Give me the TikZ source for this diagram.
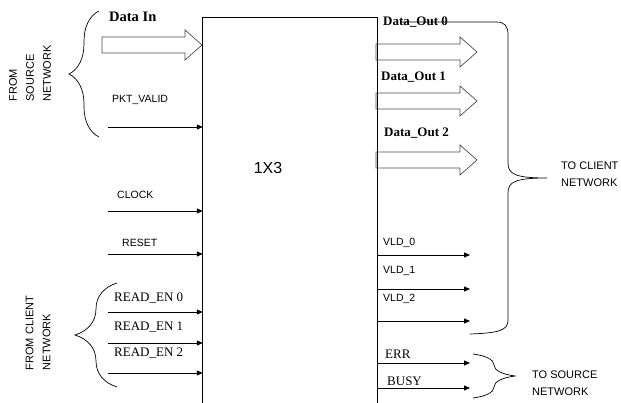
\documentclass[tikz,border=0pt]{standalone}
\usepackage{fontspec}
\setmainfont{Liberation Serif}
\setsansfont{Liberation Sans}
\usetikzlibrary{arrows.meta,decorations.pathreplacing}

\begin{document}
\begin{tikzpicture}
            [
                x = 1pt, y = -1pt,
                sig/.style  = {draw, line width=0.8pt, -{Triangle[length=6pt,width=5pt]}},
                lbl/.style  = {anchor=west, inner sep=1pt, font=\sffamily\fontsize{10.5}{12}\selectfont},
                slbl/.style = {anchor=west, inner sep=1pt, font=\rmfamily\fontsize{13}{15}\selectfont},
                blbl/.style = {anchor=west, inner sep=1pt, font=\rmfamily\bfseries\fontsize{13}{15}\selectfont},
                side/.style = {align=left, inner sep=1pt, font=\sffamily\fontsize{11}{17}\selectfont},
                brc/.style  = {decorate, line width=0.7pt, decoration={brace, amplitude=#1}},
                pics/bus/.style = {code={
                    \draw[line width=0.7pt, draw=black!70] (0,-8) -- (#1-17,-8) -- (#1-17,-15) -- (#1,0)
                        -- (#1-17,15) -- (#1-17,8) -- (0,8) -- cycle;}}
            ]
            \useasboundingbox (0,0) rectangle (621,403);

            % the block
            \node[minimum width=174pt, minimum height=385pt, inner sep=0pt] (blk) at (290,210.5) {};
            \draw[line width=0.8pt] (blk.south west) |- (blk.north east) -- (blk.south east);
            \node[font=\sffamily\fontsize{16}{18}\selectfont] (core) at (268,168) {1X3};

            % inputs
            \pic at (102,45) {bus=100};
            \node[blbl, font=\rmfamily\bfseries\fontsize{14.5}{16}\selectfont] (din) at (108,17) {Data In};
            \node[lbl] (pktl) at (111,100) {PKT\_VALID};
            \node[lbl] (clkl) at (116,195) {CLOCK};
            \node[lbl] (rstl) at (121,243) {RESET};
            \node[slbl] (re0l) at (113,298) {READ\_EN 0};
            \node[slbl] (re1l) at (113,327) {READ\_EN 1};
            \node[slbl] (re2l) at (113,353) {READ\_EN 2};

            \coordinate (pkt) at (108,127);
            \coordinate (clk) at (108,211);
            \coordinate (rst) at (108,254);
            \coordinate (re0) at (108,312);
            \coordinate (re1) at (108,343);
            \coordinate (re2) at (108,373);
            \foreach \s in {pkt,clk,rst,re0,re1,re2}
                \draw[sig] (\s) -- (\s -| blk.west);

            % outputs
            \foreach \y in {52,101,160}
                \pic at (376,\y) {bus=101};
            \node[blbl] (do0) at (382,22) {Data\_Out 0};
            \node[blbl] (do1) at (380,77) {Data\_Out 1};
            \node[blbl] (do2) at (383,133) {Data\_Out 2};
            \node[lbl] (v0l) at (382,243) {VLD\_0};
            \node[lbl] (v1l) at (382,271) {VLD\_1};
            \node[lbl] (v2l) at (382,299) {VLD\_2};
            \node[slbl] (errl) at (384,354) {ERR};
            \node[slbl] (busyl) at (386,381) {BUSY};

            \coordinate (v0) at (470,255);
            \coordinate (v1) at (470,289);
            \coordinate (v2) at (470,321);
            \coordinate (err) at (470,363);
            \coordinate (busy) at (470,388);
            \foreach \s in {v0,v1,v2,err,busy}
                \draw[sig] (\s -| blk.east) -- (\s);

            % braces
            \draw[brc=30] (99,137) -- (99,11);
            \node[side, rotate=90] (fsrc) at (30,73.5) {FROM\\SOURCE\\NETWORK};
            \draw[brc=42] (117,387) -- (117,283);
            \node[side, rotate=90] (fcli) at (38,333) {FROM CLIENT\\NETWORK};
            \draw[line width=0.7pt] (400,22) -- (496,22) .. controls (505,22) and (508,26) .. (508,35)
                -- (508,163) .. controls (508,174) and (515,178) .. (547,178)
                .. controls (515,178) and (508,182) .. (508,193)
                -- (508,320) .. controls (508,330) and (500,333) .. (470,334);
            \node[side, anchor=west] (tcli) at (560,174) {TO CLIENT\\NETWORK};
            \draw[brc=42] (473,354) -- (473,398);
            \node[side, anchor=west] (tsrc) at (531,383) {TO SOURCE\\NETWORK};
        \end{tikzpicture}
\end{document}
